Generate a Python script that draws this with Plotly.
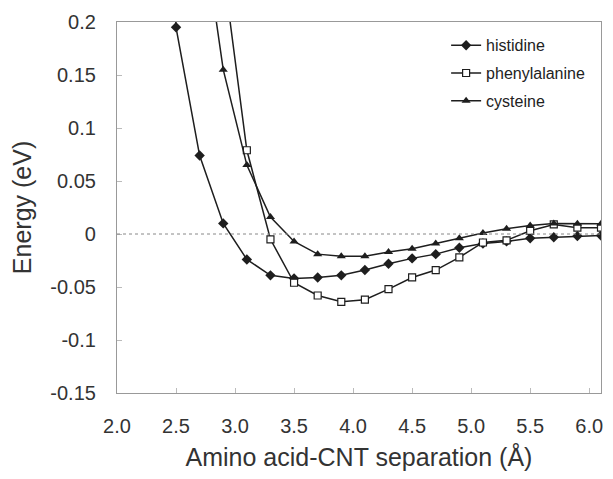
import plotly.graph_objects as go

# separation (Angstrom) and binding energy (eV)
his_x = [2.3, 2.5, 2.7, 2.9, 3.1, 3.3, 3.5, 3.7, 3.9, 4.1, 4.3, 4.5, 4.7, 4.9, 5.1, 5.3, 5.5, 5.7, 5.9, 6.1]
his_y = [0.90, 0.195, 0.074, 0.010, -0.024, -0.039, -0.042, -0.041, -0.039, -0.034, -0.028, -0.023,
         -0.019, -0.013, -0.009, -0.007, -0.004, -0.003, -0.002, -0.0015]

phe_x = [2.9, 3.1, 3.3, 3.5, 3.7, 3.9, 4.1, 4.3, 4.5, 4.7, 4.9, 5.1, 5.3, 5.5, 5.7, 5.9, 6.1]
phe_y = [0.25, 0.079, -0.005, -0.046, -0.058, -0.064, -0.062, -0.052, -0.041, -0.034, -0.022,
         -0.008, -0.006, 0.003, 0.009, 0.006, 0.006]

cys_x = [2.7, 2.9, 3.1, 3.3, 3.5, 3.7, 3.9, 4.1, 4.3, 4.5, 4.7, 4.9, 5.1, 5.3, 5.5, 5.7, 5.9, 6.1]
cys_y = [0.31, 0.155, 0.065, 0.016, -0.007, -0.019, -0.021, -0.021, -0.017, -0.014, -0.009,
         -0.004, 0.001, 0.005, 0.008, 0.010, 0.0097, 0.0097]

x_ticks = [2.0, 2.5, 3.0, 3.5, 4.0, 4.5, 5.0, 5.5, 6.0]
y_ticks = [0.2, 0.15, 0.1, 0.05, 0, -0.05, -0.1, -0.15]
y_labels = ["0.2", "0.15", "0.1", "0.05", "0", "-0.05", "-0.1", "-0.15"]

ink = "#1e1e1e"
fig = go.Figure()
fig.add_trace(go.Scatter(x=his_x, y=his_y, name="histidine", mode="lines+markers",
                         legendgroup="a",
                         line=dict(color=ink, width=1.5),
                         marker=dict(symbol="diamond", size=8, color=ink)))
fig.add_trace(go.Scatter(x=phe_x, y=phe_y, name="phenylalanine", mode="lines+markers",
                         legendgroup="b",
                         line=dict(color=ink, width=1.5),
                         marker=dict(symbol="square", size=7, color="white",
                                     line=dict(color=ink, width=1.2))))
fig.add_trace(go.Scatter(x=cys_x, y=cys_y, name="cysteine", mode="lines+markers",
                         legendgroup="c",
                         line=dict(color=ink, width=1.5),
                         marker=dict(symbol="triangle-up", size=8, color=ink)))

# the page body has an 8px margin: shift everything and keep the page from scrolling
fig.update_layout(
    width=605, height=463,
    margin=dict(l=109, r=12, t=14, b=78),
    paper_bgcolor="white", plot_bgcolor="white",
    font=dict(family="Liberation Sans, Arial, sans-serif", color="#333", size=20),
    showlegend=True,
    legend=dict(x=0.68, y=0.983, xanchor="left", yanchor="top",
                bgcolor="rgba(0,0,0,0)", font=dict(size=16, color="#222"),
                itemwidth=30, tracegroupgap=4),
    xaxis=dict(range=[2.0, 6.1], tickvals=x_ticks, tickformat=".1f",
               showgrid=False, zeroline=False, showline=True, mirror=True, automargin=False,
               linecolor="#999", linewidth=1.2, ticks="inside", ticklen=5, tickcolor="#bbb",
               ticklabelstandoff=15, ticklabeloverflow="allow",
               title=dict(text="Amino acid-CNT separation (Å)", font=dict(size=25), standoff=18)),
    yaxis=dict(range=[-0.15, 0.2], tickvals=y_ticks, ticktext=y_labels,
               showgrid=False, zeroline=False, showline=True, mirror=True, automargin=False,
               linecolor="#999", linewidth=1.2, ticks="inside", ticklen=5, tickcolor="#bbb",
               ticklabelstandoff=16,
               title=dict(text="Energy (eV)", font=dict(size=25), standoff=15)),
)
fig.add_hline(y=0, line=dict(color="#888", width=1, dash="dot"))

fig.write_html("out.html")
